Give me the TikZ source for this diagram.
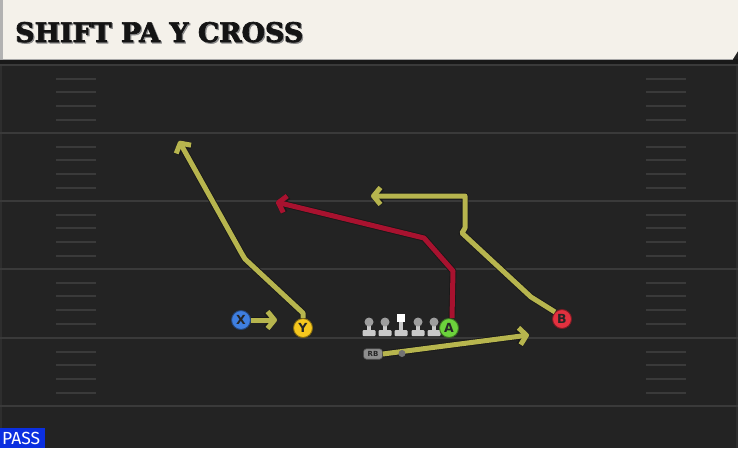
\documentclass[tikz,border=0pt]{standalone}
\usepackage{fontspec}
\setmainfont{DejaVu Sans}
\newfontfamily\headfont{DejaVu Serif}[BoldFeatures={FakeBold=2.5}]
\newfontfamily\passfont{Fira Sans}
\usetikzlibrary{arrows.meta}
\definecolor{field}{HTML}{232323}
\definecolor{yardc}{HTML}{3A3A3A}
\definecolor{edgec}{HTML}{2E2E2E}
\definecolor{cream}{HTML}{F4F1EA}
\definecolor{routeY}{HTML}{B7B54E}
\definecolor{routeR}{HTML}{A8122F}
\definecolor{pblue}{HTML}{3F7FE0}
\definecolor{pyellow}{HTML}{F6C71E}
\definecolor{pgreen}{HTML}{6CD23C}
\definecolor{pred}{HTML}{E2313F}
\definecolor{lmbody}{HTML}{C9C9C9}
\definecolor{lmhead}{HTML}{9E9E9E}
\definecolor{rbgray}{HTML}{8E8E8E}
\definecolor{passblue}{HTML}{0B2FE0}
\tikzset{
  yard/.style={draw=yardc, line width=2pt},
  hash/.style={draw=yardc, line width=1.5pt},
  player/.style={circle, minimum size=19pt, inner sep=0pt, line width=0.9pt,
    font=\fontsize{12.5}{12.5}\selectfont\bfseries, text=black!85},
  route/.style={line width=5pt, line join=round, line cap=butt,
    preaction={draw=black!90, line width=6.8pt, line join=round}},
  tip/.style={-{Straight Barb[length=7pt,width=17pt,line join=round]}},
  lineman/.pic={
    \fill[lmbody] (-2,0) rectangle (2,9);
    \fill[lmbody, rounded corners=1pt] (-6.5,8) rectangle (6.5,14);
    \fill[lmhead] (0,0) circle (4.5);
  },
  centerman/.pic={
    \fill[lmbody] (-2,0) rectangle (2,9);
    \fill[lmbody, rounded corners=1pt] (-6.5,8) rectangle (6.5,14);
    \fill[white] (-4,-8) rectangle (4,0);
  }
}
\begin{document}
\begin{tikzpicture}[x=1pt,y=-1pt]
\useasboundingbox (0,0) rectangle (738,448);
\fill[field] (0,0) rectangle (738,448);
\fill[edgec] (0,60) rectangle (2,448);
\fill[edgec] (736,60) rectangle (738,448);
% yard lines and hashes
\foreach \y in {65,133,201,269,338,406} \draw[yard] (0,\y) -- (738,\y);
\foreach \y in {65,133,201,269,338} {
  \foreach \d in {14,27,41,55} {
    \draw[hash] (56,\y+\d) -- (96,\y+\d);
    \draw[hash] (646,\y+\d) -- (686,\y+\d);
  }
}
% header
\fill[black!90] (0,59) rectangle (738,64);
\fill[cream] (0,0) -- (738,0) -- (738,51) -- (733,59) -- (0,59) -- cycle;
\fill[black!30] (0,0) rectangle (3,59);
\draw[black!35, line width=0.8pt] (0,59) -- (733,59);
\node[anchor=base west, inner sep=0pt, text=black!45] (titleshadow) at (16.2,43.2)
  {\resizebox{288pt}{20pt}{\headfont\bfseries SHIFT PA Y CROSS}};
\node[anchor=base west, inner sep=0pt, text=black!92] (title) at (15,42)
  {\resizebox{288pt}{20pt}{\headfont\bfseries SHIFT PA Y CROSS}};
% linemen
\pic at (369,322) {lineman};
\pic at (385,322) {lineman};
\pic at (401,322) {centerman};
\pic at (418,322) {lineman};
\pic at (434,322) {lineman};
% players
\node[player, fill=pblue, draw=pblue!55!black] (X) at (241,320) {X};
\node[player, fill=pyellow, draw=pyellow!55!black] (Y) at (303,328) {Y};
\node[player, fill=pgreen, draw=pgreen!55!black] (A) at (449,328) {A};
\node[player, fill=pred, draw=pred!55!black] (B) at (562,319) {B};
\node[rounded corners=3pt, fill=rbgray, draw=black!70, line width=0.6pt, minimum width=19pt, minimum height=10.5pt,
  inner sep=0pt, font=\fontsize{7}{7}\selectfont\bfseries, text=black!85] (RB) at (373,354) {RB};
% route end points
\coordinate (Xend) at (277,320);
\coordinate (Yend) at (179,141);
\coordinate (Aend) at (276,202);
\coordinate (Bend) at (371,196);
\coordinate (RBend) at (529,335);
% routes
\draw[route, routeY, tip] (X.east) -- (Xend);
\draw[route, routeY, tip] (Y.north) -- (303,313) -- (245,259) -- (242,254) -- (Yend);
\draw[route, routeR, tip] ([xshift=3pt]A.north) -- (453,271) -- (424,238) -- (Aend);
\draw[route, routeY, tip] (B.north west) -- (531,297) -- (462,233) -- (465,228) -- (465,196) -- (Bend);
\draw[route, routeY, tip] (RB.east) -- (RBend);
\node[circle, fill=black!55, minimum size=7pt, inner sep=0pt] (rbdot) at (402,353.5) {};
% pass label
\fill[passblue] (0,428) rectangle (45,448);
\node[anchor=base west, inner sep=0pt, text=white, font=\passfont\fontsize{17.5}{17.5}\selectfont] (pass) at (2,444) {PASS};
\end{tikzpicture}
\end{document}
